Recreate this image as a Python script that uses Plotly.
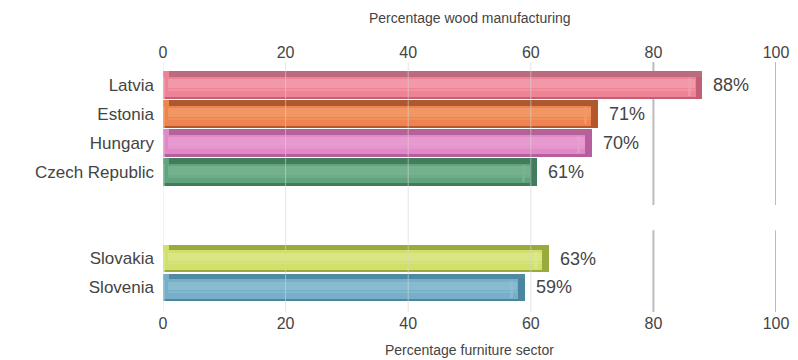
import plotly.graph_objects as go

# Share of employment by country, two sectors
wood_countries = ["Latvia", "Estonia", "Hungary", "Czech Republic"]
wood_values = [88, 71, 70, 61]
furniture_countries = ["Slovakia", "Slovenia"]
furniture_values = [63, 59]
x_ticks = [0, 20, 40, 60, 80, 100]

# bar shading: front face, highlight, top face, shadow
palette = {
    "Latvia":         ("#ee8396", "#f49fae", "#bb6b7d", "#c25f74"),
    "Estonia":        ("#ee8550", "#f39b6a", "#ab5a30", "#b5572a"),
    "Hungary":        ("#e189c6", "#e99fd2", "#b46297", "#b65e9e"),
    "Czech Republic": ("#62a37e", "#79b592", "#437c59", "#417c5c"),
    "Slovakia":       ("#d1df6b", "#dde88a", "#9aaa3c", "#9aab3d"),
    "Slovenia":       ("#76afc7", "#8ebfd3", "#4e8aa4", "#4b86a0"),
}

countries = wood_countries + furniture_countries
values = wood_values + furniture_values
gap = 2
pos = list(range(len(wood_countries))) + [len(wood_countries) + gap + i for i in range(len(furniture_countries))]

front = [palette[c][0] for c in countries]
light = [palette[c][1] for c in countries]
top = [palette[c][2] for c in countries]
dark = [palette[c][3] for c in countries]

fig = go.Figure()

def layer(x, base, color, width, offset, opacity=1.0):
    fig.add_trace(go.Bar(
        x=x, y=pos, base=base, orientation="h", width=width, offset=offset,
        marker=dict(color=color, line=dict(width=0)), opacity=opacity,
        hoverinfo="skip", showlegend=False))

n = len(values)
# front face
layer(values, [0] * n, front, 0.96, -0.48)
# lower shadow edge
layer(values, [0] * n, dark, 0.08, 0.40)
# soft horizontal highlight band
layer([v - 2.0 for v in values], [0.8] * n, light, 0.30, -0.20, 0.8)
layer([v - 2.0 for v in values], [0.8] * n, light, 0.06, 0.14, 0.5)
# top face
layer([v - 1.0 for v in values], [1.0] * n, top, 0.20, -0.48)
# bevelled end of each bar
layer([1.1] * n, [v - 1.1 for v in values], dark, 0.76, -0.28)
layer([0.5] * n, [v - 2.4 for v in values], light, 0.6, -0.24, 0.7)
# left edge highlight
layer([0.4] * n, [0] * n, light, 0.74, -0.26, 0.8)

# invisible trace so the top axis is drawn
fig.add_trace(go.Scatter(x=[0, 100], y=[pos[0], pos[0]], xaxis="x2", mode="markers",
                         marker=dict(opacity=0), hoverinfo="skip", showlegend=False))

font_family = "Liberation Sans, Arial, sans-serif"
text_color = "#444444"

shapes = []
split_lo = len(wood_countries) - 1 + 1.15
split_hi = len(wood_countries) + gap - 1 + 0.02
for t in x_ticks:
    if t >= 80:
        for y0, y1 in ((-0.8, split_lo), (split_hi, 7.92)):
            shapes.append(dict(type="line", xref="x", yref="y", x0=t, x1=t, y0=y0, y1=y1,
                               line=dict(color="#bcbcc0", width=2), layer="below"))
    else:
        shapes.append(dict(type="line", xref="x", yref="paper", x0=t, x1=t, y0=0, y1=1,
                           line=dict(color="#d6d6d6", width=1), layer="above", opacity=0.6))

annotations = []
for c, v, p in zip(countries, values, pos):
    annotations.append(dict(x=v, y=p, xref="x", yref="y", text=f"{v}%", showarrow=False,
                            xanchor="left", yanchor="middle", xshift=9,
                            font=dict(size=18, color=text_color, family=font_family)))
annotations.append(dict(x=0.5, y=1, xref="paper", yref="paper", yshift=44, yanchor="middle",
                        text="Percentage wood manufacturing", showarrow=False,
                        font=dict(size=14, color=text_color, family=font_family)))
annotations.append(dict(x=0.5, y=0, xref="paper", yref="paper", yshift=-38, yanchor="middle",
                        text="Percentage furniture sector", showarrow=False,
                        font=dict(size=14, color=text_color, family=font_family)))

axis_common = dict(range=[0, 100], tickvals=x_ticks, showgrid=False, zeroline=False,
                   showline=False, ticks="", automargin=False,
                   tickfont=dict(size=16, color=text_color, family=font_family))

fig.update_layout(
    width=798, height=360,
    margin=dict(l=163, r=22, t=62, b=48),
    paper_bgcolor="white", plot_bgcolor="white",
    barmode="overlay", bargap=0,
    xaxis=dict(**axis_common, side="bottom"),
    xaxis2=dict(**axis_common, side="top", overlaying="x", matches="x"),
    yaxis=dict(range=[7.85, -0.8], tickvals=pos, ticktext=countries, showgrid=False,
               zeroline=False, showline=False, ticks="", ticklabelstandoff=8, automargin=False,
               tickfont=dict(size=17, color=text_color, family=font_family)),
    shapes=shapes,
    annotations=annotations,
)

fig.write_html("out.html")
